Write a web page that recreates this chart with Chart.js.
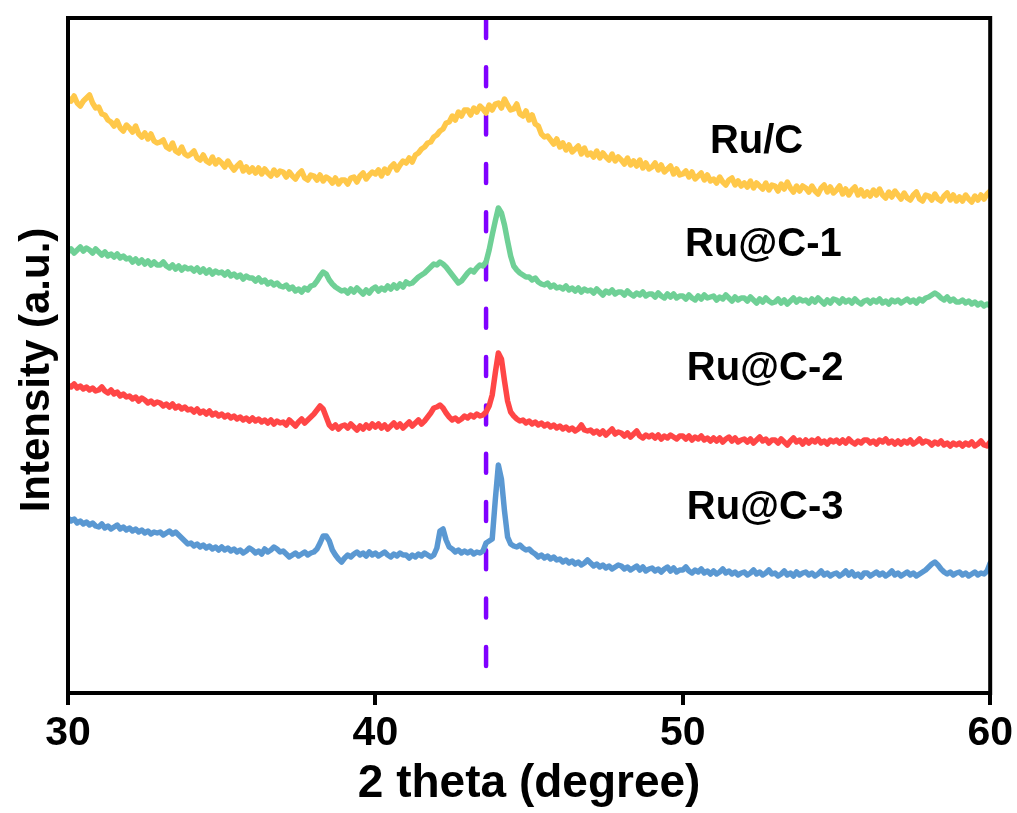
<!DOCTYPE html>
<html lang="en">
  <head>
    <meta charset="UTF-8" />
    <title>XRD patterns</title>
    <style>
      body { margin: 0; background: #fff; }
    </style>
  </head>
  <body>
    <canvas id="xrdChart" width="1017" height="813"></canvas>

    <script src="https://cdn.jsdelivr.net/npm/chart.js"></script>
    <script>
      // scans start at 30 deg with 0.1 deg steps, curves already offset for stacking
      const angleStart = 30;
      const angleStep = 0.1;
      const xTicks = [30, 40, 50, 60];
      const refAngle = 43.6;
      const refSpan = [674, 27];

      const ruC = [
        595,592,597,590,587,592,595,598,590,585,
        586,579,578,573,571,567,572,565,562,568,
        565,561,567,559,556,560,554,559,552,550,
        551,553,546,544,550,542,540,546,539,537,
        539,542,535,533,538,532,530,536,529,533,
        530,526,532,527,523,527,530,522,526,521,
        525,520,525,519,524,520,517,523,518,522,
        521,516,521,517,514,519,522,515,513,518,
        517,513,518,512,516,514,510,515,509,513,
        513,509,515,516,511,517,520,514,518,521,
        519,523,517,524,520,526,529,523,528,532,
        530,535,531,538,540,544,546,550,551,556,
        558,562,564,570,571,577,573,581,577,583,
        583,578,585,581,587,584,580,588,583,589,
        590,585,594,588,583,584,589,579,577,582,
        573,578,569,567,559,556,557,553,549,554,
        546,550,543,548,541,544,547,539,545,538,
        540,536,542,535,540,536,533,539,532,536,
        533,529,535,528,532,527,533,525,530,524,
        526,530,523,528,521,524,527,519,524,518,
        519,522,516,521,514,517,520,513,518,512,
        514,510,516,511,508,513,515,508,512,507,
        510,506,512,505,510,507,504,510,503,508,
        507,502,509,504,511,505,501,507,502,507,
        505,501,507,502,499,505,508,501,506,500,
        503,507,499,504,498,503,506,498,503,497,
        501,497,503,498,504,498,495,501,496,502,
        498,494,500,495,493,498,501,494,492,498,
        497,493,499,494,492,497,500,493,498,492,
        496,492,498,494,491,497,493,498,494,499,
        502
      ];

      const ruC1 = [
        441,444,440,443,446,442,445,443,440,444,
        441,438,441,437,439,436,439,435,437,434,
        435,431,434,430,433,429,432,428,431,428,
        428,431,427,425,428,424,427,423,426,424,
        425,422,425,421,424,420,423,419,422,420,
        421,418,421,417,419,416,418,414,417,415,
        415,412,415,411,413,409,411,408,410,407,
        406,408,404,406,402,404,401,405,403,407,
        408,412,417,421,419,413,409,406,404,402,
        403,400,404,401,405,402,399,403,400,404,
        406,402,405,403,407,404,408,405,409,406,
        411,409,410,413,416,418,420,423,426,429,
        428,431,429,426,422,418,414,410,412,416,
        420,423,421,425,428,427,431,443,458,472,
        485,480,468,452,437,427,423,420,418,416,
        416,413,415,411,409,408,410,406,408,405,
        406,404,407,403,405,402,405,401,404,402,
        403,400,404,401,398,402,400,403,399,401,
        401,398,402,399,397,400,398,401,397,399,
        399,396,400,397,395,399,396,399,395,397,
        397,394,398,395,393,397,394,398,395,396,
        397,393,396,394,398,395,392,396,393,395,
        395,392,396,393,390,394,391,395,392,390,
        391,394,390,393,389,392,395,391,394,392,
        393,390,394,391,395,392,389,393,390,394,
        393,390,394,391,393,390,394,391,389,392,
        393,390,393,391,394,390,392,389,393,391,
        393,390,392,394,391,393,390,394,392,395,
        396,398,400,398,395,393,396,392,394,391,
        391,393,390,392,389,391,388,390,387,389,
        387
      ];

      const ruC2 = [
        308,306,309,305,307,304,306,303,305,302,
        303,306,302,300,303,299,301,297,299,296,
        297,294,296,292,295,293,290,292,289,291,
        290,287,289,286,289,285,287,284,286,283,
        284,281,284,280,282,279,282,278,280,277,
        279,276,278,275,277,274,276,273,275,272,
        275,272,274,271,273,270,273,269,272,270,
        271,268,273,270,267,271,274,270,273,276,
        279,283,287,284,276,268,265,268,264,267,
        268,265,269,266,263,267,264,268,265,269,
        266,269,265,268,264,267,270,266,269,265,
        268,271,267,270,273,269,272,276,280,285,
        286,288,285,280,276,273,275,272,274,277,
        275,278,276,279,277,278,281,287,298,320,
        340,334,312,292,281,277,274,272,273,270,
        272,269,271,268,270,267,269,266,268,265,
        267,264,266,263,265,262,264,268,263,262,
        263,260,262,259,262,258,261,264,259,261,
        260,257,260,256,259,262,257,255,258,256,
        258,255,258,254,257,255,258,256,254,257,
        257,254,257,253,256,254,257,253,255,252,
        255,252,255,251,254,256,252,255,251,253,
        254,251,254,250,253,256,252,254,250,253,
        253,250,254,251,248,252,255,251,253,249,
        253,250,253,251,254,250,252,249,253,251,
        253,250,253,250,254,251,249,252,250,253,
        253,250,252,249,253,251,254,250,252,249,
        252,249,252,250,253,249,251,254,250,252,
        251,248,251,249,252,248,250,247,250,248,
        250,247,250,248,251,247,249,252,248,247,
        251
      ];

      const ruC3 = [
        175,172,174,170,172,169,171,168,170,167,
        166,169,165,167,164,166,168,164,166,163,
        165,162,164,161,163,160,162,159,161,160,
        161,158,160,162,159,161,158,155,152,149,
        150,147,149,146,148,145,147,144,146,143,
        146,143,145,142,144,141,143,140,142,145,
        143,140,142,139,144,141,143,146,144,141,
        142,139,136,138,140,137,139,141,138,140,
        141,144,150,157,157,152,143,138,134,131,
        135,138,136,139,141,138,140,137,141,138,
        140,137,139,141,138,136,139,137,140,138,
        138,135,138,136,139,137,140,138,136,138,
        145,162,164,153,146,144,141,143,140,142,
        140,142,139,141,140,142,150,152,154,193,
        228,214,182,156,149,147,146,148,145,143,
        144,141,139,136,138,135,137,134,136,133,
        134,131,133,130,132,129,131,128,130,133,
        130,127,129,126,128,125,127,124,126,128,
        127,124,126,123,125,127,123,126,122,124,
        125,122,124,121,124,126,122,125,121,123,
        123,126,122,120,123,121,124,120,122,119,
        122,119,121,124,120,122,119,121,118,120,
        121,118,120,123,119,121,118,120,123,119,
        120,117,119,122,118,120,117,121,118,120,
        121,118,120,117,119,122,118,120,117,119,
        120,117,119,122,118,121,117,119,116,120,
        120,117,119,121,118,120,117,119,122,118,
        120,117,119,121,118,120,117,119,121,123,
        126,129,131,128,124,121,119,121,118,120,
        121,118,120,117,119,121,118,120,119,122,
        130
      ];

      const sampleNames = ["Ru/C", "Ru@C-1", "Ru@C-2", "Ru@C-3"];
      const sampleColors = ["#ffc84a", "#6fd096", "#ff4646", "#5a98d2"];
      // where each sample name sits, in (2theta, intensity)
      const nameAngles = [52.4, 52.62, 52.68, 52.68];
      const nameLevels = [551, 448, 324, 185];

      const toPoints = (arr) =>
        arr.map((v, i) => ({ x: +(angleStart + i * angleStep).toFixed(1), y: v }));

      const scans = [ruC, ruC1, ruC2, ruC3];
      const datasets = scans.map((arr, i) => ({
        label: sampleNames[i],
        data: toPoints(arr),
        borderColor: sampleColors[i],
        borderWidth: 5.5,
        pointRadius: 0,
        tension: 0,
        borderJoinStyle: "round",
        borderCapStyle: "round",
      }));
      datasets.push({
        label: "ref",
        data: refSpan.map((v) => ({ x: refAngle, y: v })),
        borderColor: "#8000ff",
        borderWidth: 4.5,
        borderDash: [19, 29.3],
        borderCapStyle: "round",
        pointRadius: 0,
      });

      const boldFont = '"Liberation Sans", Arial, sans-serif';

      const framePlugin = {
        id: "frame",
        afterDraw(chart) {
          const { ctx, chartArea: a, scales } = chart;
          ctx.save();
          ctx.strokeStyle = "#000";
          ctx.lineWidth = 4;
          ctx.strokeRect(a.left, a.top, a.right - a.left, a.bottom - a.top);

          // sample names
          ctx.fillStyle = "#000";
          ctx.font = "bold 40px " + boldFont;
          ctx.textAlign = "center";
          ctx.textBaseline = "middle";
          sampleNames.forEach((name, i) => {
            ctx.fillText(
              name,
              scales.x.getPixelForValue(nameAngles[i]),
              scales.y.getPixelForValue(nameLevels[i])
            );
          });

          // y axis title
          ctx.translate(37, 370);
          ctx.rotate(-Math.PI / 2);
          ctx.font = "bold 42px " + boldFont;
          ctx.fillText("Intensity (a.u.)", 0, 0);
          ctx.restore();
        },
      };

      new Chart(document.getElementById("xrdChart"), {
        type: "line",
        data: { datasets },
        options: {
          responsive: false,
          animation: false,
          layout: { padding: { left: 68, right: 26, top: 18, bottom: 0 } },
          plugins: { legend: { display: false }, tooltip: { enabled: false } },
          scales: {
            x: {
              type: "linear",
              min: 30,
              max: 60,
              afterFit: (scale) => { scale.height = 120; },
              afterBuildTicks: (scale) => {
                scale.ticks = xTicks.map((v) => ({ value: v }));
              },
              border: { display: true, color: "#000", width: 4 },
              grid: {
                drawOnChartArea: false,
                drawTicks: true,
                tickLength: 12,
                lineWidth: 4,
                color: "#000",
              },
              ticks: {
                color: "#000",
                padding: 4,
                font: { family: boldFont, size: 41, weight: "bold" },
              },
              title: {
                display: true,
                text: "2 theta (degree)",
                color: "#000",
                padding: { top: 0, bottom: 1 },
                font: { family: boldFont, size: 46, weight: "bold" },
              },
            },
            y: { display: false, min: 0, max: 675 },
          },
        },
        plugins: [framePlugin],
      });
    </script>
  </body>
</html>
